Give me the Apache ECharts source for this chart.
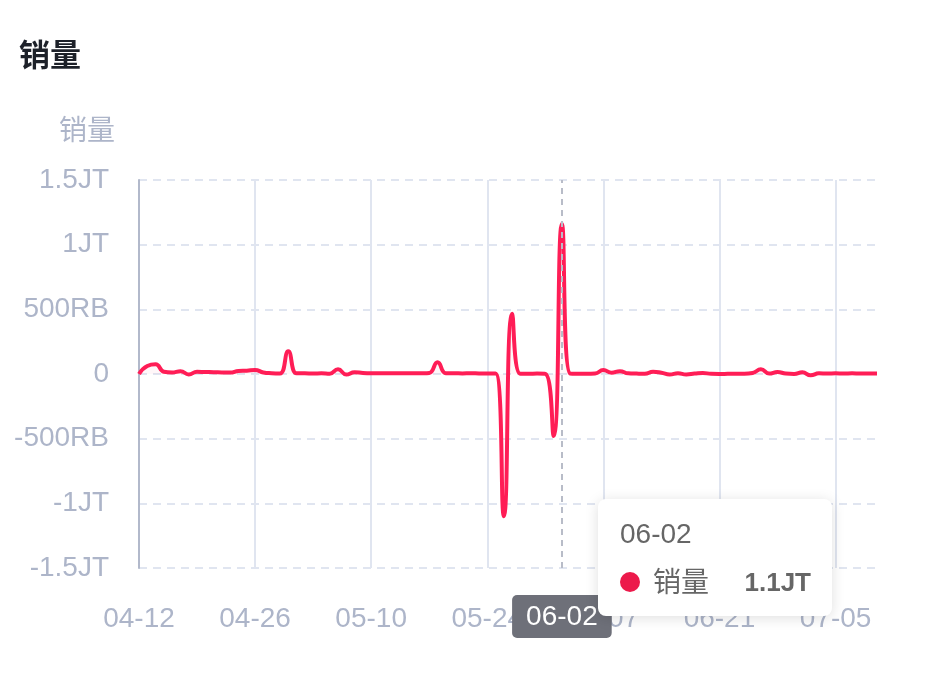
<!DOCTYPE html>
<html>
<head>
<meta charset="utf-8">
<script src="https://cdn.jsdelivr.net/npm/echarts@6/dist/echarts.min.js"></script>
<style>
html,body{margin:0;padding:0;background:#fff;}
#chart{width:952px;height:676px;}
</style>
</head>
<body>
<div id="chart"></div>
<script>
var titleText = '销量';
var seriesName = '销量';
var categories = [
  '04-12','04-13','04-14','04-15','04-16','04-17','04-18','04-19','04-20','04-21',
  '04-22','04-23','04-24','04-25','04-26','04-27','04-28','04-29','04-30','05-01',
  '05-02','05-03','05-04','05-05','05-06','05-07','05-08','05-09','05-10','05-11',
  '05-12','05-13','05-14','05-15','05-16','05-17','05-18','05-19','05-20','05-21',
  '05-22','05-23','05-24','05-25','05-26','05-27','05-28','05-29','05-30','05-31',
  '06-01','06-02','06-03','06-04','06-05','06-06','06-07','06-08','06-09','06-10',
  '06-11','06-12','06-13','06-14','06-15','06-16','06-17','06-18','06-19','06-20',
  '06-21','06-22','06-23','06-24','06-25','06-26','06-27','06-28','06-29','06-30',
  '07-01','07-02','07-03','07-04','07-05','07-06','07-07','07-08','07-09','07-10'
];
var salesValues = [
  0, 62000, 75000, 18000, 12000, 22000, -3000, 17000, 15000, 14000,
  12000, 11000, 24000, 26000, 30000, 12000, 6000, 4000, 175000, 5000,
  5000, 4000, 5000, 2000, 36000, -4000, 14000, 8000, 6000, 6000,
  5000, 6000, 5000, 5000, 6000, 8000, 90000, 6000, 6000, 4000,
  6000, 4000, 3000, 3000, -1100000, 465000, 2000, 2000, 3000, 1000,
  -480000, 1160000, 3000, 2000, 2000, 4000, 30000, 10000, 22000, 5000,
  3000, 2000, 18000, 10000, -4000, 6000, -3000, 3000, 8000, 1000,
  0, 1000, 2000, 2000, 8000, 36000, 3000, 15000, 3000, 0,
  13000, -10000, 5000, 4000, 5000, 4000, 5000, 4000, 4000, 4000
];
var yMin = -1500000, yMax = 1500000, yStep = 500000;
var highlightIndex = 51;

function fmtAxis(v) {
  var a = Math.abs(v), s = v < 0 ? '-' : '';
  if (a === 0) return '0';
  if (a >= 1000000) return s + (Math.round(a / 100000) / 10) + 'JT';
  return s + Math.round(a / 1000) + 'RB';
}
function fmtTip(v) {
  var a = Math.abs(v), s = v < 0 ? '-' : '';
  if (a >= 1000000) return s + (Math.trunc(a / 100000) / 10) + 'JT';
  if (a >= 1000) return s + Math.trunc(a / 1000) + 'RB';
  return String(v);
}

var FONT = "'Liberation Sans','Noto Sans CJK SC',sans-serif";
var labelColor = '#adb5c9';
var chart = echarts.init(document.getElementById('chart'), null, {renderer: 'canvas'});
chart.setOption({
  animation: false,
  textStyle: {fontFamily: FONT},
  title: {
    text: titleText, left: 14, top: 37,
    textStyle: {fontSize: 31, fontWeight: 'bold', color: '#1d2129', fontFamily: FONT}
  },
  grid: {left: 139, right: 75, top: 180, bottom: 108, containLabel: false},
  tooltip: {
    trigger: 'axis',
    transitionDuration: 0,
    backgroundColor: '#fff',
    borderWidth: 0,
    borderRadius: 8,
    padding: [21, 21, 20, 22],
    extraCssText: 'box-shadow:0 2px 14px rgba(0,0,0,0.13);',
    position: function () { return [598, 499]; },
    axisPointer: {
      type: 'line',
      lineStyle: {color: '#b8bcc8', type: [6, 5], width: 2},
      label: {
        show: true, backgroundColor: '#6E7079', color: '#fff',
        fontSize: 28, fontFamily: FONT, padding: [8, 14, 7, 14],
        borderRadius: 5, margin: 27
      }
    },
    formatter: function (params) {
      var p = params[0];
      return '<div style="width:191px;font-family:' + FONT.replace(/"/g, '') + ';color:#666;">' +
        '<div style="font-size:28px;line-height:28px;">' + p.axisValue + '</div>' +
        '<div style="display:flex;align-items:center;margin-top:20px;height:28px;">' +
        '<span style="display:inline-block;width:20px;height:20px;border-radius:10px;background:#ec1a4b;margin-left:0px;"></span>' +
        '<span style="font-size:28px;margin-left:13px;">' + p.seriesName + '</span>' +
        '<span style="font-size:26px;font-weight:bold;margin-left:auto;">' + fmtTip(p.value) + '</span>' +
        '</div></div>';
    }
  },
  xAxis: {
    type: 'category',
    data: categories,
    boundaryGap: false,
    axisLine: {show: false},
    axisTick: {show: false},
    axisLabel: {color: labelColor, fontSize: 28, margin: 37, interval: 13},
    splitLine: {show: true, interval: 13, lineStyle: {color: '#e0e5f0', width: 2}}
  },
  yAxis: {
    type: 'value',
    min: yMin, max: yMax, interval: yStep,
    name: seriesName,
    nameLocation: 'end',
    nameGap: 34,
    nameTextStyle: {color: labelColor, fontSize: 28, align: 'right', padding: [0, 24, 0, 0]},
    axisLine: {show: true, lineStyle: {color: '#b2b9cb', width: 2}},
    axisTick: {show: false},
    axisLabel: {color: labelColor, fontSize: 28, margin: 30, formatter: fmtAxis},
    splitLine: {show: true, lineStyle: {color: '#e0e5f0', width: 2, type: [8, 6]}}
  },
  series: [{
    name: seriesName,
    type: 'line',
    data: salesValues,
    smooth: true,
    showSymbol: false,
    symbol: 'none',
    lineStyle: {color: '#ff1b4f', width: 4},
    itemStyle: {color: '#ec1a4b'},
    areaStyle: {color: 'rgba(255,27,79,0.05)'}
  }]
});
chart.dispatchAction({type: 'showTip', seriesIndex: 0, dataIndex: highlightIndex});
</script>
</body>
</html>
